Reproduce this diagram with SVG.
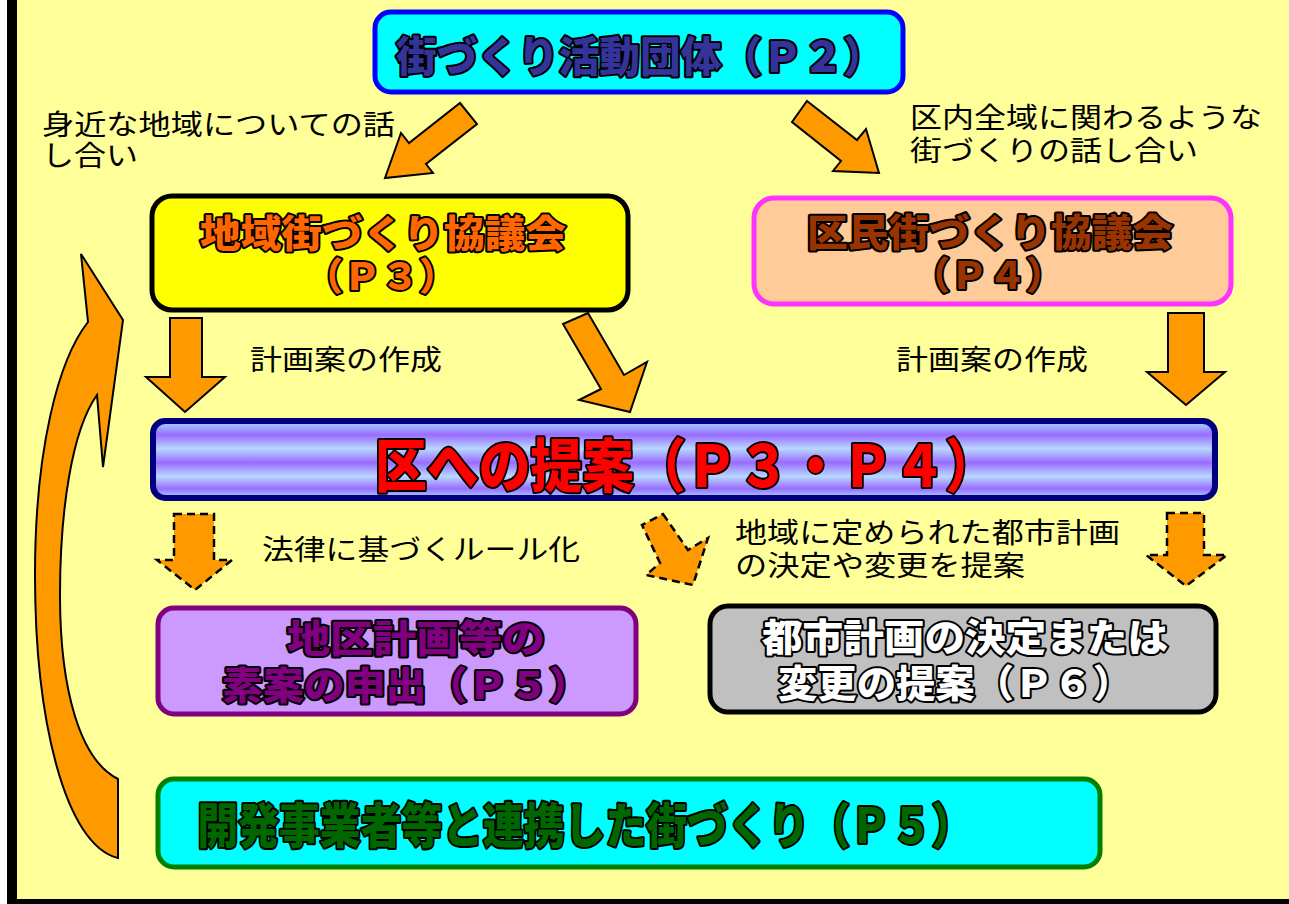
<svg xmlns="http://www.w3.org/2000/svg" width="1289" height="904" viewBox="0 0 1289 904">
<defs>
<linearGradient id="bar" x1="0" y1="0" x2="0" y2="1">
<stop offset="0" stop-color="#a8dcff"/>
<stop offset="0.18" stop-color="#9a6cff"/>
<stop offset="0.36" stop-color="#b8d8ff"/>
<stop offset="0.54" stop-color="#9a6cff"/>
<stop offset="0.72" stop-color="#b8d8ff"/>
<stop offset="0.88" stop-color="#9a6cff"/>
<stop offset="1" stop-color="#a8dcff"/>
</linearGradient>
</defs>
<style>
.lbl{font-family:"Noto Sans CJK JP","Noto Sans CJK SC",sans-serif;font-size:28px;fill:#000;}
.ttl{font-family:"Noto Sans CJK JP","Noto Sans CJK SC",sans-serif;font-weight:900;paint-order:stroke;stroke:#000;stroke-linejoin:round;text-anchor:middle;}
.arr{fill:#ff9900;stroke:#000;stroke-width:2;stroke-linejoin:miter;}
.dash{fill:#ff9900;stroke:#000;stroke-width:2.5;stroke-dasharray:8 5;}
</style>
<rect x="0" y="0" width="1289" height="904" fill="#ffff99"/>
<rect x="0" y="0" width="7" height="904" fill="#fff"/>
<rect x="7" y="0" width="10" height="904" fill="#000"/>
<rect x="7" y="899" width="1282" height="5" fill="#000"/>

<g id="connectors">
<polygon class="arr" points="460,103 477,124 426,164 433,173 385,178 401,133 409,143"/>
<polygon class="arr" points="807,101 857,140 866,129 879,173 833,171 841,161 792,122"/>
<polygon class="arr" points="170,318 202,318 202,377 225,377 185,412 146,377 170,377"/>
<polygon class="arr" points="563,324 588,313 624,375 647,362 630,412 579,400 601,389"/>
<polygon class="arr" points="1168,313 1204,313 1204,372 1225,372 1186,405 1147,372 1168,372"/>
<polygon class="dash" points="174,514 214,514 214,560 232,560 195,590 157,560 174,560"/>
<polygon class="dash" points="663,514 688,550 708,538 693,585 646,575 660,563 642,525"/>
<polygon class="dash" points="1167,513 1204,513 1204,555 1227,555 1186,586 1146,555 1167,555"/>
<path class="arr" d="M81,254 L123,320 L103,467 L97,395 C72,430 60,510 60,595 C60,690 80,760 118,779 L118,858 C65,845 35,720 35,575 C35,450 58,360 88,322 Z"/>
</g>

<g id="labels">
<text class="lbl" x="42" y="135" textLength="353" lengthAdjust="spacingAndGlyphs">身近な地域についての話</text>
<text class="lbl" x="42" y="166" textLength="96" lengthAdjust="spacingAndGlyphs">し合い</text>
<text class="lbl" x="910" y="128" textLength="352" lengthAdjust="spacingAndGlyphs">区内全域に関わるような</text>
<text class="lbl" x="910" y="161" textLength="288" lengthAdjust="spacingAndGlyphs">街づくりの話し合い</text>
<text class="lbl" x="250" y="370" textLength="192" lengthAdjust="spacingAndGlyphs">計画案の作成</text>
<text class="lbl" x="896" y="370" textLength="192" lengthAdjust="spacingAndGlyphs">計画案の作成</text>
<text class="lbl" x="262" y="560" textLength="318" lengthAdjust="spacingAndGlyphs">法律に基づくルール化</text>
<text class="lbl" x="735" y="543" textLength="385" lengthAdjust="spacingAndGlyphs">地域に定められた都市計画</text>
<text class="lbl" x="735" y="576" textLength="290" lengthAdjust="spacingAndGlyphs">の決定や変更を提案</text>
</g>

<g id="node-top">
<rect x="375" y="12" width="528" height="80" rx="16" fill="#00ffff" stroke="#0000ff" stroke-width="5"/>
<text class="ttl" x="640" y="72" font-size="42" fill="#333399" stroke-width="4" textLength="488" lengthAdjust="spacingAndGlyphs">街づくり活動団体（Ｐ２）</text>
</g>

<g id="node-chiiki">
<rect x="152" y="196" width="476" height="114" rx="20" fill="#ffff00" stroke="#000" stroke-width="5"/>
<text class="ttl" x="383" y="247" font-size="38" fill="#ff6600" stroke-width="4" textLength="366" lengthAdjust="spacingAndGlyphs">地域街づくり協議会</text>
<text class="ttl" x="381" y="290" font-size="38" fill="#ff6600" stroke-width="4">（Ｐ３）</text>
</g>

<g id="node-kumin">
<rect x="754" y="198" width="477" height="106" rx="20" fill="#ffcc99" stroke="#ff33ff" stroke-width="5"/>
<text class="ttl" x="990" y="246" font-size="38" fill="#993300" stroke-width="4" textLength="366" lengthAdjust="spacingAndGlyphs">区民街づくり協議会</text>
<text class="ttl" x="988" y="289" font-size="38" fill="#993300" stroke-width="4">（Ｐ４）</text>
</g>

<g id="node-teian">
<rect x="153" y="421" width="1062" height="77" rx="12" fill="url(#bar)" stroke="#000080" stroke-width="6"/>
<text class="ttl" x="686" y="487" font-size="58" fill="#ff0000" stroke-width="4" textLength="622" lengthAdjust="spacingAndGlyphs">区への提案（Ｐ３・Ｐ４）</text>
</g>

<g id="node-chikukeikaku">
<rect x="158" y="608" width="478" height="106" rx="16" fill="#cc99ff" stroke="#800080" stroke-width="5"/>
<text class="ttl" x="416" y="652" font-size="38" fill="#800080" stroke-width="4" textLength="258" lengthAdjust="spacingAndGlyphs">地区計画等の</text>
<text class="ttl" x="406" y="699" font-size="38" fill="#800080" stroke-width="4" textLength="368" lengthAdjust="spacingAndGlyphs">素案の申出（Ｐ５）</text>
</g>

<g id="node-toshikeikaku">
<rect x="710" y="606" width="506" height="106" rx="18" fill="#c0c0c0" stroke="#000" stroke-width="5"/>
<text class="ttl" x="965" y="651" font-size="38" fill="#ffffff" stroke-width="4" textLength="406" lengthAdjust="spacingAndGlyphs">都市計画の決定または</text>
<text class="ttl" x="955" y="697" font-size="38" fill="#ffffff" stroke-width="4" textLength="354" lengthAdjust="spacingAndGlyphs">変更の提案（Ｐ６）</text>
</g>

<g id="node-kaihatsu">
<rect x="158" y="779" width="942" height="88" rx="16" fill="#00ffff" stroke="#008000" stroke-width="5"/>
<text class="ttl" x="585" y="843" font-size="48" fill="#006600" stroke-width="4" textLength="775" lengthAdjust="spacingAndGlyphs">開発事業者等と連携した街づくり（Ｐ５）</text>
</g>
</svg>
